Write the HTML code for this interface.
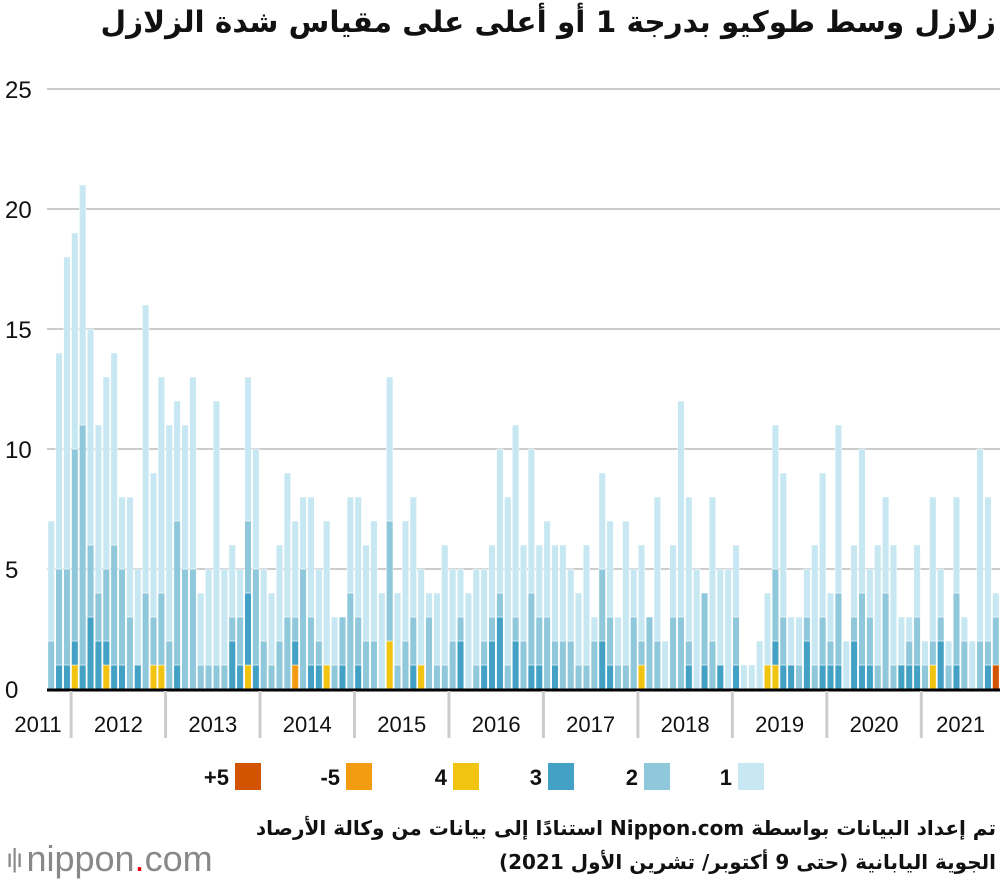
<!DOCTYPE html>
<html><head><meta charset="utf-8">
<style>
html,body{margin:0;padding:0;background:#fff;}
body{width:1000px;height:882px;position:relative;overflow:hidden;font-family:"Liberation Sans","Noto Sans CJK SC",sans-serif;}
#title{position:absolute;right:4px;top:5px;font-size:29.5px;font-weight:bold;direction:rtl;color:#111;white-space:nowrap;font-family:"DejaVu Sans","Liberation Sans",sans-serif;}
#source{position:absolute;right:4px;top:811px;font-size:20px;line-height:34px;direction:rtl;text-align:right;color:#111;font-weight:bold;font-family:"DejaVu Sans","Liberation Sans",sans-serif;}
#logo{position:absolute;left:6px;top:838px;font-size:36px;color:#888;white-space:nowrap;}
svg{position:absolute;left:0;top:0;}
</style></head>
<body>
<div id="title">زلازل وسط طوكيو بدرجة 1 أو أعلى على مقياس شدة الزلازل</div>
<svg id="chart" width="1000" height="882"></svg>
<div id="source">تم إعداد البيانات بواسطة Nippon.com استنادًا إلى بيانات من وكالة الأرصاد<br>الجوية اليابانية (حتى 9 أكتوبر/ تشرين الأول 2021)</div>
<div id="logo"><span style="letter-spacing:-2px;font-size:26px;vertical-align:4px">ı|ı </span>nippon<span style="color:#e60012">.</span><span style="font-weight:normal">com</span></div>
<script>
const years = ["2011","2012","2013","2014","2015","2016","2017","2018","2019","2020","2021"];
const monthsPerYear = [3,12,12,12,12,12,12,12,12,12,10];
const yTicks = [0,5,10,15,20,25];
const seriesNames = ["+5","-5","4","3","2","1"];
const seriesColors = ["#d35400","#f39c12","#f2c412","#42a1c4","#8fc8da","#c7e8f2"];
const s1 = [5,9,13,9,10,9,7,8,8,3,5,4,12,6,9,9,5,6,8,3,4,11,4,3,2,6,5,3,3,4,6,4,3,5,3,6,2,0,4,5,4,5,4,6,3,5,5,4,1,3,5,3,2,4,4,3,3,6,7,8,4,6,3,4,4,4,3,3,5,1,4,4,2,6,2,4,0,6,2,3,9,6,5,0,6,4,5,3,1,1,2,3,6,6,2,2,2,5,6,2,7,2,3,6,2,5,4,5,2,1,3,1,6,2,1,4,1,2,8,6,1];
const s2 = [2,4,4,8,10,3,2,3,5,4,3,0,4,2,3,2,6,5,5,1,1,1,1,1,2,3,4,2,1,2,3,1,5,2,1,0,1,2,4,2,2,2,0,5,1,2,2,0,3,1,1,2,1,0,1,1,1,1,1,1,2,3,2,3,1,2,2,1,1,2,3,2,1,1,3,1,3,2,0,3,3,1,0,3,2,0,0,2,0,0,0,0,3,2,0,1,1,1,2,1,3,0,1,3,2,1,4,1,0,1,2,1,1,1,1,3,2,0,2,1,2];
const s3 = [0,1,1,1,1,3,2,1,1,1,0,1,0,0,0,0,1,0,0,0,0,0,0,2,1,3,1,0,0,0,0,1,0,1,1,0,0,1,0,1,0,0,0,0,0,0,1,0,0,0,0,0,2,0,0,1,2,3,0,2,0,1,1,0,1,0,0,0,0,0,2,1,0,0,0,0,0,0,0,0,0,1,0,1,0,1,0,1,0,0,0,0,1,1,1,0,2,0,1,1,1,0,2,1,1,0,0,0,1,1,1,0,0,2,0,1,0,0,0,1,0];
const s4 = [0,0,0,1,0,0,0,1,0,0,0,0,0,1,1,0,0,0,0,0,0,0,0,0,0,1,0,0,0,0,0,0,0,0,0,1,0,0,0,0,0,0,0,2,0,0,0,1,0,0,0,0,0,0,0,0,0,0,0,0,0,0,0,0,0,0,0,0,0,0,0,0,0,0,0,1,0,0,0,0,0,0,0,0,0,0,0,0,0,0,0,1,1,0,0,0,0,0,0,0,0,0,0,0,0,0,0,0,0,0,0,0,1,0,0,0,0,0,0,0,0];
const s5m = [0,0,0,0,0,0,0,0,0,0,0,0,0,0,0,0,0,0,0,0,0,0,0,0,0,0,0,0,0,0,0,1,0,0,0,0,0,0,0,0,0,0,0,0,0,0,0,0,0,0,0,0,0,0,0,0,0,0,0,0,0,0,0,0,0,0,0,0,0,0,0,0,0,0,0,0,0,0,0,0,0,0,0,0,0,0,0,0,0,0,0,0,0,0,0,0,0,0,0,0,0,0,0,0,0,0,0,0,0,0,0,0,0,0,0,0,0,0,0,0,0];
const s5p = [0,0,0,0,0,0,0,0,0,0,0,0,0,0,0,0,0,0,0,0,0,0,0,0,0,0,0,0,0,0,0,0,0,0,0,0,0,0,0,0,0,0,0,0,0,0,0,0,0,0,0,0,0,0,0,0,0,0,0,0,0,0,0,0,0,0,0,0,0,0,0,0,0,0,0,0,0,0,0,0,0,0,0,0,0,0,0,0,0,0,0,0,0,0,0,0,0,0,0,0,0,0,0,0,0,0,0,0,0,0,0,0,0,0,0,0,0,0,0,0,1];

const NS="http://www.w3.org/2000/svg";
const svg=document.getElementById('chart');
const X0=47.5, X1=1000, Y0=689, PX_PER=24;
const N=s1.length;
const slot=(X1-X0)/N;
const xScale=i=>X0+i*slot;
const yScale=v=>Y0-v*PX_PER;
function mk(tag,attrs){const e=document.createElementNS(NS,tag);for(const k in attrs)e.setAttribute(k,attrs[k]);svg.appendChild(e);return e;}

yTicks.forEach(t=>{
  if(t>0){const g=mk('line',{x1:47,x2:1000,y1:yScale(t),y2:yScale(t),stroke:'#cccccc','stroke-width':2});
  
  }
  const tx=mk('text',{x:5,y:yScale(t)+9,'font-size':24,fill:'#111'});
  tx.textContent=t;
  
  
});

const series=[s5p,s5m,s4,s3,s2,s1];
for(let i=0;i<N;i++){
  let base=0;
  series.forEach((s,k)=>{
    const v=s[i]; if(!v) return;
    const r=mk('rect',{x:xScale(i)+0.4,y:yScale(base+v),width:slot-1.3,height:v*PX_PER,fill:seriesColors[k],stroke:'#ffffff','stroke-width':0.5});
    
    
    base+=v;
  });
}

const bl=mk('line',{x1:47,x2:1000,y1:Y0+1,y2:Y0+1,stroke:'#000','stroke-width':3});



let idx=0;
years.forEach((y,k)=>{
  const start=idx, end=idx+monthsPerYear[k];
  if(k>0){const sep=mk('line',{x1:xScale(start),x2:xScale(start),y1:Y0+2,y2:738,stroke:'#cccccc','stroke-width':3});
    
    }
  const cx = k===0 ? 38 : (xScale(start)+xScale(end))/2;
  const t=mk('text',{x:cx,y:732,'font-size':22,'text-anchor':'middle',fill:'#111'});
  t.textContent=y;
  
  
  idx=end;
});

const legX=[235,346,453,548,644,738];
seriesNames.forEach((n,k)=>{
  const r=mk('rect',{x:legX[k],y:763,width:26,height:27,fill:seriesColors[k]});
  
  
  const t=mk('text',{x:legX[k]-6,y:785,'font-size':22,'font-weight':'bold','text-anchor':'end',fill:'#111'});
  t.textContent=n;
  
  
});
</script>
</body></html>
